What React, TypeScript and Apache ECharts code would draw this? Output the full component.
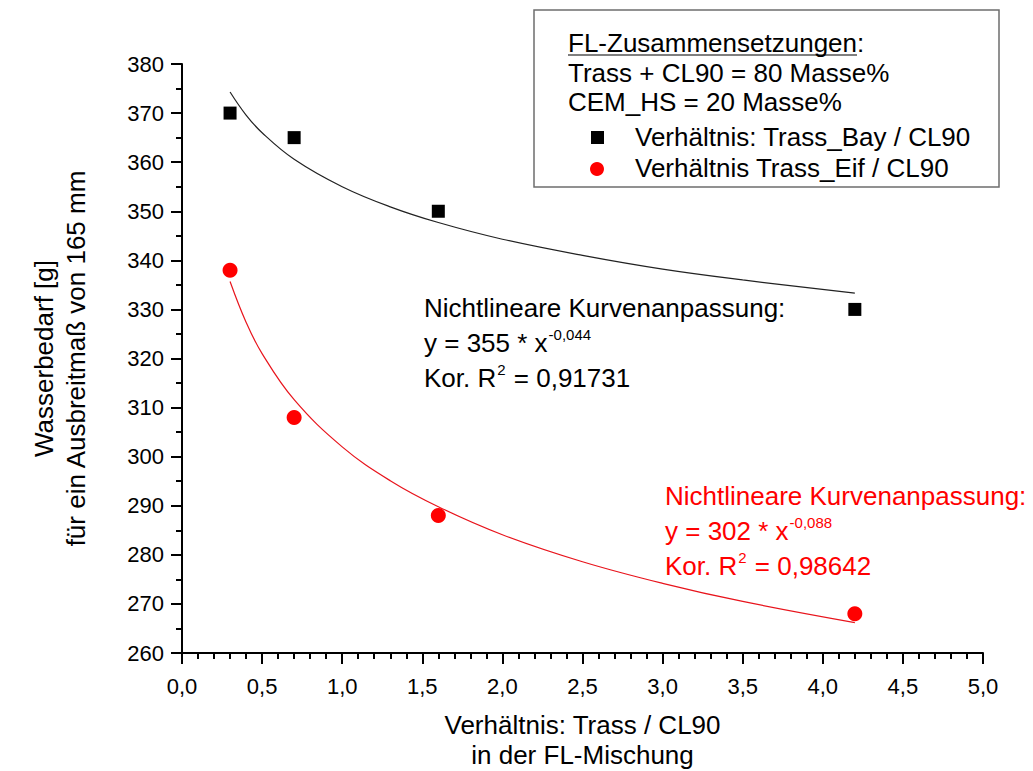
import React, { useEffect, useRef } from 'react';
import * as echarts from 'echarts';

// Axis ranges
const xMin = 0;
const xMax = 5;
const xStep = 0.5;
const yMin = 260;
const yMax = 380;
const yStep = 10;

// Measured points: ratio Trass / CL90 vs. water demand [g]
const ratios = [0.3, 0.7, 1.6, 4.2];
const trassBay = [370, 365, 350, 330];
const trassEif = [338, 308, 288, 268];

// Power-law fit curves (y = a * x^b) sampled along the ratio range
const fitRatios = [0.3, 0.4, 0.5, 0.7, 1.0, 1.3, 1.6, 2.0, 2.5, 3.0, 3.5, 4.2];
const fitBay = [374.3, 369.6, 366.0, 360.6, 355.0, 350.9, 347.7, 344.3, 341.0, 338.2, 336.0, 333.3];
const fitEif = [335.7, 327.4, 321.0, 311.6, 302.0, 295.1, 289.8, 284.1, 278.6, 274.2, 270.5, 266.2];

// Texts
const legendTitle = 'FL-Zusammensetzungen';
const legendInfo = ['Trass + CL90 = 80 Masse%', 'CEM_HS = 20 Masse%'];
const seriesNames = ['Verhältnis: Trass_Bay / CL90', 'Verhältnis Trass_Eif / CL90'];
const fitHeading = 'Nichtlineare Kurvenanpassung:';
const fitBayCoef = { a: '355', b: '-0,044', r2: '0,91731' };
const fitEifCoef = { a: '302', b: '-0,088', r2: '0,98642' };
const xTitle = 'Verhältnis: Trass / CL90\nin der FL-Mischung';
const yTitle = 'Wasserbedarf [g]\nfür ein Ausbreitmaß von 165 mm';

const FONT = '"Liberation Sans", Arial, Helvetica, sans-serif';
const RED = '#ff0000';

const measureCtx = document.createElement('canvas').getContext('2d') as CanvasRenderingContext2D;
function textWidth(s: string, size: number): number {
  measureCtx.font = `${size}px "Liberation Sans", Arial, sans-serif`;
  return measureCtx.measureText(s).width;
}

function txt(x: number, y: number, text: string, size: number, color: string) {
  return {
    type: 'text',
    x,
    y,
    silent: true,
    style: { text, fontSize: size, fontFamily: FONT, fill: color, align: 'left', verticalAlign: 'middle' },
  };
}

function fitNote(x0: number, y0: number, gap: number, color: string, c: { a: string; b: string; r2: string }) {
  const big = 26;
  const small = 15;
  const supShift = 9;
  const eq = `y = ${c.a} * x`;
  const eqW = textWidth(eq, big);
  const korW = textWidth('Kor. R', big);
  const twoW = textWidth('2', small);
  return [
    txt(x0, y0, fitHeading, big, color),
    txt(x0, y0 + gap, eq, big, color),
    txt(x0 + eqW + 1, y0 + gap - supShift, c.b, small, color),
    txt(x0, y0 + 2 * gap, 'Kor. R', big, color),
    txt(x0 + korW + 1, y0 + 2 * gap - supShift, '2', small, color),
    txt(x0 + korW + twoW + 2, y0 + 2 * gap, ` = ${c.r2}`, big, color),
  ];
}

function fmt(v: number) {
  return v.toFixed(1).replace('.', ',');
}

export default function App() {
  const ref = useRef<HTMLDivElement>(null);

  useEffect(() => {
    document.body.style.margin = '0';
    if (!ref.current) return;
    const chart = echarts.init(ref.current, null, { renderer: 'svg' });

    const titleW = textWidth(legendTitle, 26);
    const legendX = 568;

    const graphic: any[] = [
      {
        type: 'rect',
        shape: { x: 534, y: 10, width: 465, height: 177 },
        style: { fill: '#fff', stroke: '#6e6e6e', lineWidth: 1.5 },
        silent: true,
      },
      txt(legendX, 43, legendTitle + ':', 26, '#000'),
      {
        type: 'line',
        shape: { x1: legendX, y1: 55, x2: legendX + titleW, y2: 55 },
        style: { stroke: '#000', lineWidth: 1.2 },
        silent: true,
      },
      txt(legendX, 73, legendInfo[0], 26, '#000'),
      txt(legendX, 102, legendInfo[1], 26, '#000'),
      {
        type: 'rect',
        shape: { x: 591, y: 131, width: 13, height: 13 },
        style: { fill: '#000' },
        silent: true,
      },
      txt(635, 137, seriesNames[0], 26, '#000'),
      {
        type: 'circle',
        shape: { cx: 597, cy: 169, r: 7 },
        style: { fill: RED },
        silent: true,
      },
      txt(635, 168, seriesNames[1], 26, '#000'),
      ...fitNote(424, 308, 35, '#000', fitBayCoef),
      ...fitNote(665, 496, 35, RED, fitEifCoef),
    ];

    const axisCommon = {
      axisLine: { show: true, onZero: false, lineStyle: { color: '#000', width: 2 } },
      axisTick: { show: true, inside: false, length: 11, lineStyle: { color: '#000', width: 2 } },
      minorTick: { show: true, length: 6, lineStyle: { color: '#000', width: 2 } },
      splitLine: { show: false },
      minorSplitLine: { show: false },
    };

    chart.setOption({
      animation: false,
      backgroundColor: '#fff',
      textStyle: { fontFamily: FONT },
      grid: { left: 182, right: 50, top: 64, bottom: 118, containLabel: false, outerBoundsMode: 'none' },
      xAxis: {
        type: 'value',
        min: xMin,
        max: xMax,
        interval: xStep,
        ...axisCommon,
        minorTick: { ...axisCommon.minorTick, splitNumber: 5 },
        axisLabel: { fontSize: 22, color: '#000', margin: 22, formatter: (v: number) => fmt(v), fontFamily: FONT },
        name: xTitle,
        nameLocation: 'middle',
        nameGap: 57,
        nameTextStyle: { fontSize: 26, color: '#000', lineHeight: 30, fontFamily: FONT },
      },
      yAxis: {
        type: 'value',
        min: yMin,
        max: yMax,
        interval: yStep,
        ...axisCommon,
        minorTick: { ...axisCommon.minorTick, splitNumber: 2 },
        axisLabel: { fontSize: 22, color: '#000', margin: 18, fontFamily: FONT },
        name: yTitle,
        nameLocation: 'middle',
        nameRotate: 90,
        nameGap: 90,
        nameTextStyle: { fontSize: 26, color: '#000', lineHeight: 32, fontFamily: FONT },
      },
      series: [
        {
          name: 'fitBay',
          type: 'line',
          data: fitRatios.map((x, i) => [x, fitBay[i]]),
          smooth: 0.4,
          showSymbol: false,
          symbol: 'none',
          lineStyle: { color: '#222', width: 1.2 },
          z: 2,
        },
        {
          name: 'fitEif',
          type: 'line',
          data: fitRatios.map((x, i) => [x, fitEif[i]]),
          smooth: 0.4,
          showSymbol: false,
          symbol: 'none',
          lineStyle: { color: '#e8141c', width: 1.2 },
          z: 2,
        },
        {
          name: seriesNames[0],
          type: 'scatter',
          data: ratios.map((x, i) => [x, trassBay[i]]),
          symbol: 'rect',
          symbolSize: 13,
          itemStyle: { color: '#000', opacity: 1 },
          z: 3,
        },
        {
          name: seriesNames[1],
          type: 'scatter',
          data: ratios.map((x, i) => [x, trassEif[i]]),
          symbol: 'circle',
          symbolSize: 15,
          itemStyle: { color: RED, opacity: 1 },
          z: 3,
        },
      ],
      graphic,
    });

    return () => chart.dispose();
  }, []);

  return <div ref={ref} style={{ width: 1033, height: 771 }} />;
}
